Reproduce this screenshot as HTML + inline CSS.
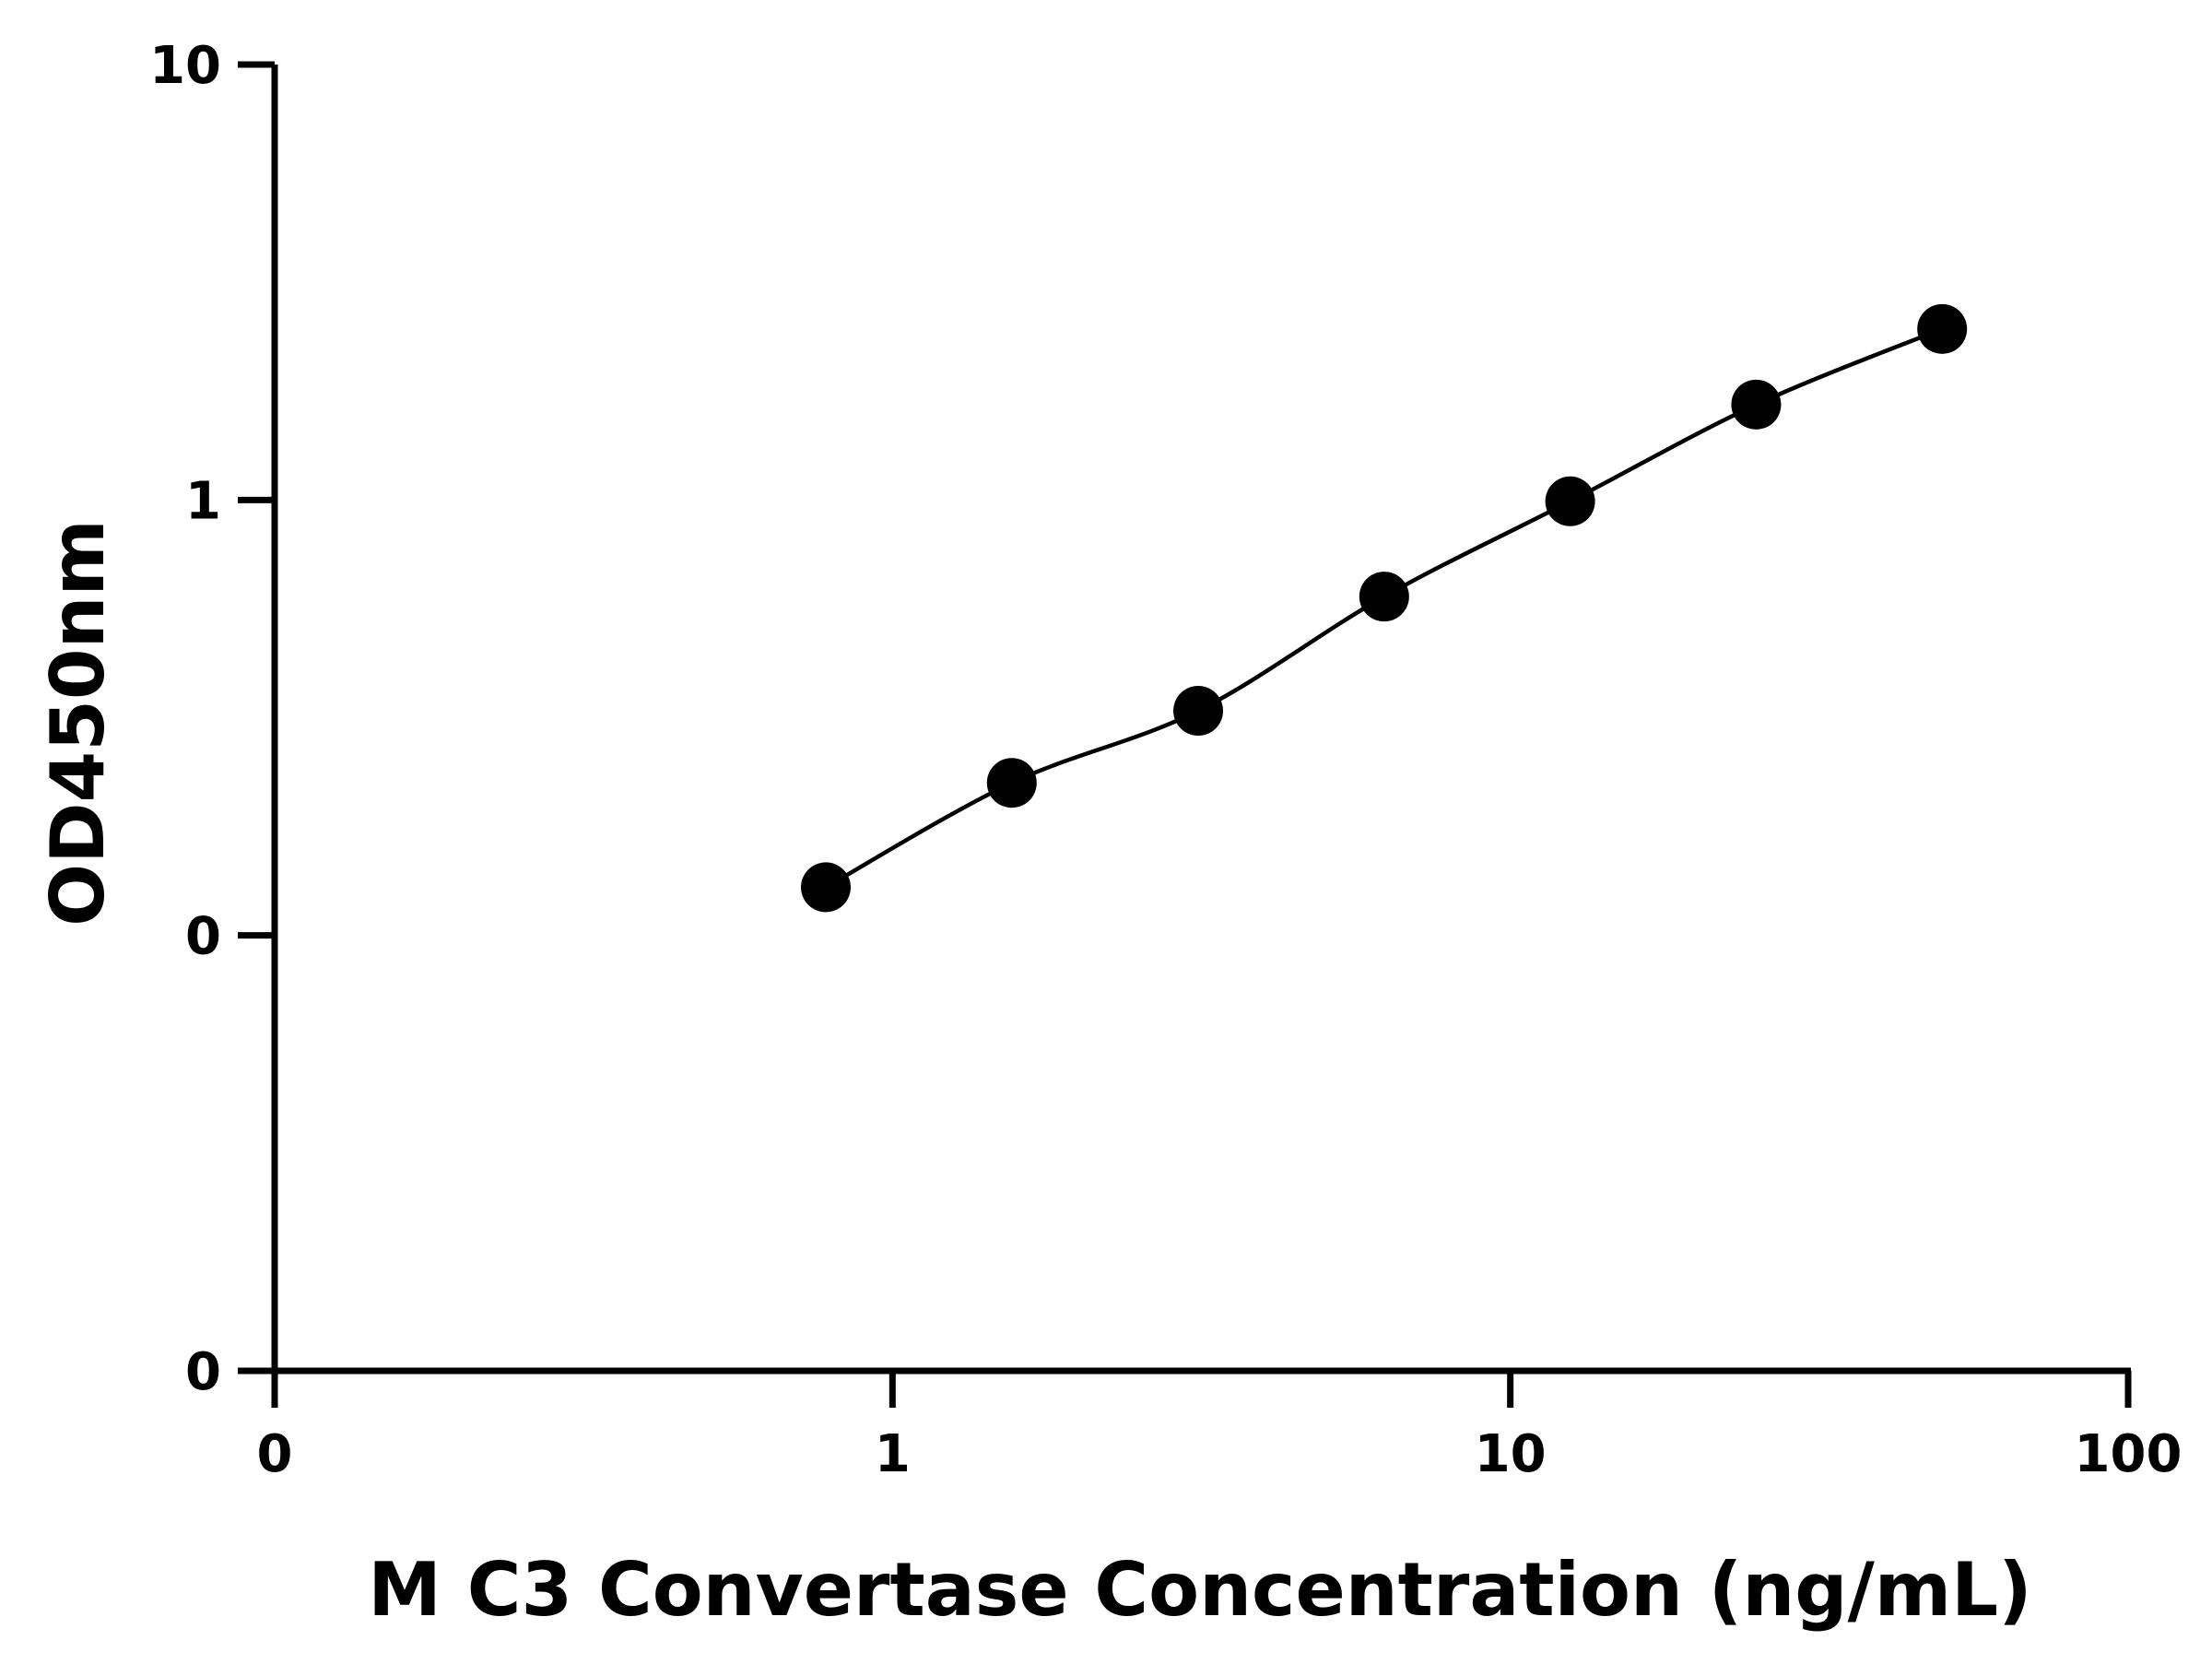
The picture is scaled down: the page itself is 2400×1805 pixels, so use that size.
<!DOCTYPE html>
<html><head><meta charset="utf-8"><style>html,body{margin:0;padding:0;background:#fff}svg text{font-family:"DejaVu Sans","Liberation Sans",sans-serif;font-weight:bold;fill:#000}</style></head>
<body>
<svg id="chart" width="2400" height="1800" viewBox="0 0 2400 1800" xmlns="http://www.w3.org/2000/svg">
<g id="axes"></g>
<path id="curve" fill="none" stroke="#000" stroke-width="4.5"/>
<g id="points"></g>
<text x="1302" y="1752" font-size="80" text-anchor="middle">M C3 Convertase Concentration (ng/mL)</text>
<text transform="translate(112,784) rotate(-90)" font-size="80" text-anchor="middle">OD450nm</text>
</svg>
<script>
const concentrations=[0.78,1.56,3.125,6.25,12.5,25,50];
const odValues=[0.129,0.224,0.328,0.600,0.993,1.656,2.47];
const xTickValues=[0.1,1,10,100];
const xTickLabels=["0","1","10","100"];
const yTickValues=[0.01,0.1,1,10];
const yTickLabels=["0","0","1","10"];
const X0=298,X1=2309,Y0=1487,Y1=70;
function xs(v){return X0+(Math.log10(v)+1)/3*(X1-X0);}
function ys(v){return Y0-(Math.log10(v)+2)/3*(Y0-Y1);}
const NS="http://www.w3.org/2000/svg";
const ax=document.getElementById('axes');
function mk(tag,attrs,parent){const e=document.createElementNS(NS,tag);for(const k in attrs)e.setAttribute(k,attrs[k]);parent.appendChild(e);return e;}
let l=mk('line',{x1:X0,y1:Y1,x2:X0,y2:Y0+3,stroke:'#000','stroke-width':7},ax);


l=mk('line',{x1:X0-3,y1:Y0,x2:X1+3,y2:Y0,stroke:'#000','stroke-width':7},ax);


xTickValues.forEach((v,i)=>{const x=xs(v);
 const t=mk('line',{x1:x,y1:Y0,x2:x,y2:Y0+40,stroke:'#000','stroke-width':7},ax);
 
 
 const tx=mk('text',{x:x,y:1596,'font-size':56,'text-anchor':'middle'},ax);tx.textContent=xTickLabels[i];
 
 
});
yTickValues.forEach((v,i)=>{const y=ys(v);
 const t=mk('line',{x1:X0-40,y1:y,x2:X0,y2:y,stroke:'#000','stroke-width':7},ax);
 
 
 const tx=mk('text',{x:240,y:y+20,'font-size':56,'text-anchor':'end'},ax);tx.textContent=yTickLabels[i];
 
 
});
const pts=concentrations.map((c,i)=>[xs(c),ys(odValues[i])]);
let d='M'+pts[0][0]+','+pts[0][1];
for(let i=0;i<pts.length-1;i++){const p0=pts[Math.max(i-1,0)],p1=pts[i],p2=pts[i+1],p3=pts[Math.min(i+2,pts.length-1)];
 d+=' C'+(p1[0]+(p2[0]-p0[0])/6)+','+(p1[1]+(p2[1]-p0[1])/6)+' '+(p2[0]-(p3[0]-p1[0])/6)+','+(p2[1]-(p3[1]-p1[1])/6)+' '+p2[0]+','+p2[1];}
document.getElementById('curve').setAttribute('d',d);
const pg=document.getElementById('points');
pts.forEach(p=>{const c=mk('circle',{cx:p[0],cy:p[1],r:27,fill:'#000'},pg);
 
 
});
</script>
</body></html>
